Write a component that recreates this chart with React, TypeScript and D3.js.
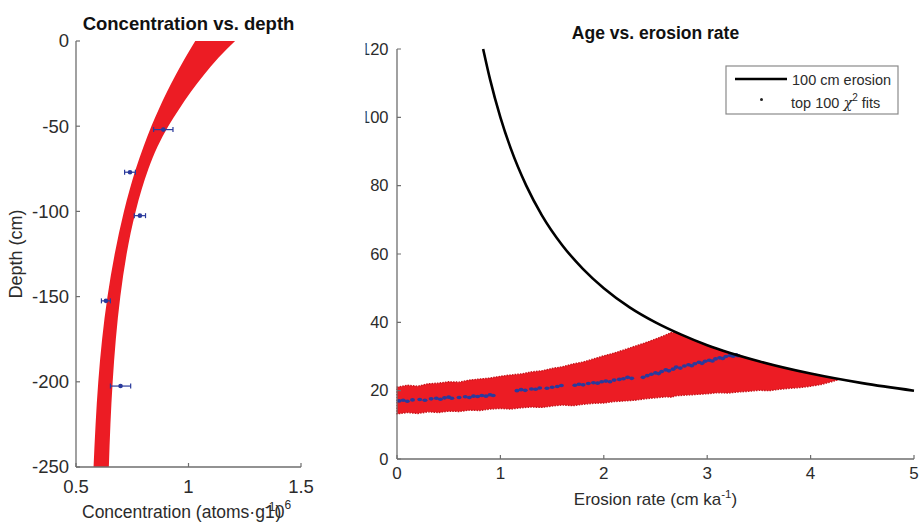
import React from "react";
import * as d3 from "d3";

// ---------- Left panel: concentration vs depth ----------
const bandDepth = [0, -10, -20, -30, -40, -50, -62, -75, -87, -100, -125, -150, -175, -200, -225, -250];
const bandLo = [1.03, 0.985, 0.943, 0.904, 0.868, 0.835, 0.8, 0.766, 0.739, 0.713, 0.672, 0.64, 0.616, 0.599, 0.587, 0.578];
const bandHi = [1.207, 1.132, 1.068, 1.01, 0.958, 0.91, 0.862, 0.822, 0.792, 0.765, 0.725, 0.697, 0.677, 0.663, 0.653, 0.646];

const sampleDepth = [-52, -77, -102.5, -152.5, -202.5];
const sampleConc = [0.888, 0.74, 0.784, 0.633, 0.698];
const sampleErr = [0.043, 0.024, 0.025, 0.02, 0.045];

const leftYTicks = [0, -50, -100, -150, -200, -250];
const leftXTicks = [0.5, 1, 1.5];

// ---------- Right panel: age vs erosion rate ----------
const curveRate = [0.833, 0.9, 1.0, 1.1, 1.25, 1.4, 1.6, 1.8, 2.0, 2.25, 2.5, 2.75, 3.0, 3.5, 4.0, 4.5, 5.0];
const curveAge = [120, 111.1, 100, 90.9, 80, 71.4, 62.5, 55.6, 50, 44.4, 40, 36.4, 33.3, 28.6, 25, 22.2, 20];

const fieldRate = [0, 0.1, 0.2, 0.3, 0.4, 0.5, 0.6, 0.7, 0.8, 0.9, 1.0, 1.1, 1.2, 1.3, 1.4, 1.5, 1.6, 1.7, 1.8, 1.9, 2.0, 2.1, 2.2, 2.3, 2.4, 2.5, 2.6, 2.65, 2.7, 2.8, 2.9, 3.0, 3.1, 3.2, 3.3, 3.4, 3.5, 3.6, 3.7, 3.8, 3.9, 4.0, 4.1, 4.2, 4.28];
const fieldUpper = [21.0, 21.6, 21.3, 22.0, 22.2, 22.6, 22.5, 23.1, 23.4, 23.7, 24.2, 24.6, 24.9, 25.5, 25.8, 26.5, 27.0, 27.8, 28.4, 29.3, 30.2, 31.0, 32.0, 33.0, 34.0, 35.1, 36.3, 37.0, 37.0, 35.7, 34.5, 33.3, 32.2, 31.2, 30.3, 29.4, 28.6, 27.8, 27.0, 26.3, 25.6, 25.0, 24.4, 23.8, 23.3];
const fieldLower = [13.2, 13.6, 13.3, 13.8, 13.6, 14.0, 13.9, 14.3, 14.2, 14.6, 14.8, 14.6, 15.0, 15.2, 15.1, 15.5, 15.8, 15.6, 16.0, 16.3, 16.4, 16.8, 17.0, 17.2, 17.6, 17.9, 18.2, 18.1, 18.5, 18.7, 18.9, 19.1, 19.4, 19.3, 19.6, 19.8, 20.1, 20.0, 20.4, 20.7, 20.9, 21.3, 21.8, 22.6, 23.3];

const fitRate = [0.02, 0.06, 0.1, 0.15, 0.22, 0.27, 0.33, 0.38, 0.42, 0.46, 0.5, 0.53, 0.6, 0.66, 0.7, 0.74, 0.78, 0.82, 0.86, 0.9, 0.93,
  1.16, 1.2, 1.24, 1.3, 1.34, 1.38, 1.45, 1.5, 1.55, 1.59,
  1.72, 1.76, 1.8, 1.85, 1.9, 1.94, 1.98, 2.02, 2.06, 2.1, 2.15, 2.19, 2.23, 2.27,
  2.38, 2.42, 2.46, 2.5, 2.53, 2.56, 2.6, 2.63, 2.67, 2.7, 2.74, 2.78, 2.82, 2.85, 2.88, 2.92, 2.95, 2.98, 3.02, 3.05, 3.08, 3.12, 3.15, 3.18, 3.22, 3.25, 3.28, 3.3];
const fitAge = [17.0, 17.2, 16.9, 17.3, 17.4, 17.2, 17.6, 17.8, 17.5, 17.9, 18.1, 17.8, 18.0, 18.2, 18.0, 18.4, 18.3, 18.6, 18.4, 18.8, 18.6,
  20.0, 20.3, 20.1, 20.5, 20.4, 20.8, 20.7, 21.0, 21.2, 21.5,
  21.6, 21.9, 21.7, 22.1, 22.3, 22.2, 22.6, 22.8, 22.6, 23.1, 23.3, 23.5, 23.9, 23.6,
  23.9, 24.4, 24.8, 25.2, 25.0, 25.6, 26.1, 25.8, 26.3, 26.9, 26.6, 27.2, 27.6, 27.3, 27.9, 28.3, 28.0, 28.6, 28.9, 28.7, 29.3, 29.6, 29.4, 30.0, 30.3, 30.1, 30.5, 30.2];

const rightYTicks = [0, 20, 40, 60, 80, 100, 120];
const rightXTicks = [0, 1, 2, 3, 4, 5];

const FONT = "'Liberation Sans', Arial, Helvetica, sans-serif";
const RED = "#ec1c24";
const BLUE = "#2a3a9c";
const AXIS = "#6e6e6e";
const TXT = "#2b2b2b";

export default function App() {
  // Left scales
  const xL = d3.scaleLinear().domain([0.5, 1.5]).range([76, 301]);
  const yL = d3.scaleLinear().domain([-250, 0]).range([467, 41]);
  // Right scales
  const xR = d3.scaleLinear().domain([0, 5]).range([397, 914]);
  const yR = d3.scaleLinear().domain([0, 120]).range([459, 49]);

  const bandData = bandDepth.map((d, i) => ({ d, lo: bandLo[i], hi: bandHi[i] }));
  const bandPath = d3
    .area<{ d: number; lo: number; hi: number }>()
    .y((p) => yL(p.d))
    .x0((p) => xL(p.lo))
    .x1((p) => xL(p.hi))
    .curve(d3.curveMonotoneY)(bandData) as string;

  const fieldPts: [number, number][] = [
    ...fieldRate.map((r, i) => [xR(r), yR(fieldUpper[i])] as [number, number]),
    ...fieldRate
      .map((r, i) => [xR(r), yR(fieldLower[i])] as [number, number])
      .reverse(),
  ];
  const fieldPath = d3.line().curve(d3.curveLinearClosed)(fieldPts) as string;

  const curvePath = d3
    .line<number>()
    .x((r) => xR(r))
    .y((_, i) => yR(curveAge[i]))
    .curve(d3.curveMonotoneX)(curveRate) as string;

  return (
    <svg
      width={922}
      height={526}
      style={{ position: "absolute", left: 0, top: 0, background: "#fff" }}
      fontFamily={FONT}
    >
      <defs>
        <clipPath id="rightClip">
          <rect x={365.5} y={0} width={560} height={526} />
        </clipPath>
      </defs>
      <rect x={0} y={0} width={922} height={526} fill="#fff" />

      {/* ---------- LEFT PANEL ---------- */}
      <path d={bandPath} fill={RED} />
      {sampleDepth.map((d, i) => {
        const y = yL(d);
        const x0 = xL(sampleConc[i] - sampleErr[i]);
        const x1 = xL(sampleConc[i] + sampleErr[i]);
        return (
          <g key={i} stroke={BLUE} strokeWidth={1.2}>
            <line x1={x0} x2={x1} y1={y} y2={y} />
            <line x1={x0} x2={x0} y1={y - 2.5} y2={y + 2.5} />
            <line x1={x1} x2={x1} y1={y - 2.5} y2={y + 2.5} />
            <circle cx={xL(sampleConc[i])} cy={y} r={2.3} fill={BLUE} stroke="none" />
          </g>
        );
      })}
      {/* axes */}
      <line x1={76} x2={76} y1={41} y2={467} stroke={AXIS} strokeWidth={1.3} />
      <line x1={76} x2={301} y1={467} y2={467} stroke={AXIS} strokeWidth={1.3} />
      {leftYTicks.map((t) => (
        <g key={t}>
          <line x1={76} x2={80} y1={yL(t)} y2={yL(t)} stroke={AXIS} strokeWidth={1.2} />
          <text x={69} y={yL(t)} dy="0.35em" textAnchor="end" fontSize={18.5} fill={TXT}>
            {t}
          </text>
        </g>
      ))}
      {leftXTicks.map((t) => (
        <g key={t}>
          <line x1={xL(t)} x2={xL(t)} y1={467} y2={463} stroke={AXIS} strokeWidth={1.2} />
          <text x={xL(t)} y={493} textAnchor="middle" fontSize={18.5} fill={TXT}>
            {t}
          </text>
        </g>
      ))}
      <text x={188.5} y={30} textAnchor="middle" fontSize={18.5} fontWeight="bold" fill="#111">
        Concentration vs. depth
      </text>
      <text
        transform={`translate(22,254) rotate(-90)`}
        textAnchor="middle"
        fontSize={18}
        fill={TXT}
      >
        Depth (cm)
      </text>
      <text x={82} y={518} fontSize={17.5} fill={TXT}>
        Concentration (atoms·g
        <tspan dy={-7} fontSize={12}>-1</tspan>
        <tspan dy={7}>)</tspan>
      </text>
      <text x={265} y={518} fontSize={17.5} fill={TXT}>
        10
        <tspan dy={-9} fontSize={12}>6</tspan>
      </text>

      {/* ---------- RIGHT PANEL ---------- */}
      <path
        d={fieldPath}
        fill={RED}
        stroke="#c8161c"
        strokeWidth={1.4}
        strokeDasharray="1.5 1.2"
        strokeLinejoin="round"
      />
      {fitRate.map((r, i) => (
        <ellipse key={i} cx={xR(r)} cy={yR(fitAge[i])} rx={2.5} ry={1.8} fill={BLUE} />
      ))}
      <path d={curvePath} fill="none" stroke="#000" strokeWidth={2.6} />

      <line x1={397} x2={397} y1={49} y2={459} stroke={AXIS} strokeWidth={1.3} />
      <line x1={397} x2={914} y1={459} y2={459} stroke={AXIS} strokeWidth={1.3} />
      <g clipPath="url(#rightClip)">
        {rightYTicks.map((t) => (
          <g key={t}>
            <line x1={397} x2={401} y1={yR(t)} y2={yR(t)} stroke={AXIS} strokeWidth={1.2} />
            <text x={388.5} y={yR(t)} dy="0.35em" textAnchor="end" fontSize={16.5} fill={TXT}>
              {t}
            </text>
          </g>
        ))}
      </g>
      {rightXTicks.map((t) => (
        <g key={t}>
          <line x1={xR(t)} x2={xR(t)} y1={459} y2={455} stroke={AXIS} strokeWidth={1.2} />
          <text x={xR(t)} y={479} textAnchor="middle" fontSize={17} fill={TXT}>
            {t}
          </text>
        </g>
      ))}
      <text x={655.5} y={39} textAnchor="middle" fontSize={17.5} fontWeight="bold" fill="#111">
        Age vs. erosion rate
      </text>
      <text x={655.5} y={505} textAnchor="middle" fontSize={17} fill={TXT}>
        Erosion rate (cm ka
        <tspan dy={-7} fontSize={11.5}>-1</tspan>
        <tspan dy={7}>)</tspan>
      </text>

      {/* legend */}
      <rect x={726} y={66} width={172} height={48} fill="#fff" stroke="#8a8a8a" strokeWidth={1.2} />
      <line x1={735} x2={787} y1={79} y2={79} stroke="#000" strokeWidth={2.6} />
      <text x={792} y={84.5} fontSize={14.5} fill={TXT}>
        100 cm erosion
      </text>
      <circle cx={761.5} cy={99.5} r={1.5} fill="#222" />
      <text x={791} y={108} fontSize={14.5} fill={TXT}>
        top 100 <tspan fontFamily="'DejaVu Serif', serif" fontStyle="italic">χ</tspan>
        <tspan dy={-7} fontSize={10}>2</tspan>
        <tspan dy={7}> fits</tspan>
      </text>
    </svg>
  );
}
